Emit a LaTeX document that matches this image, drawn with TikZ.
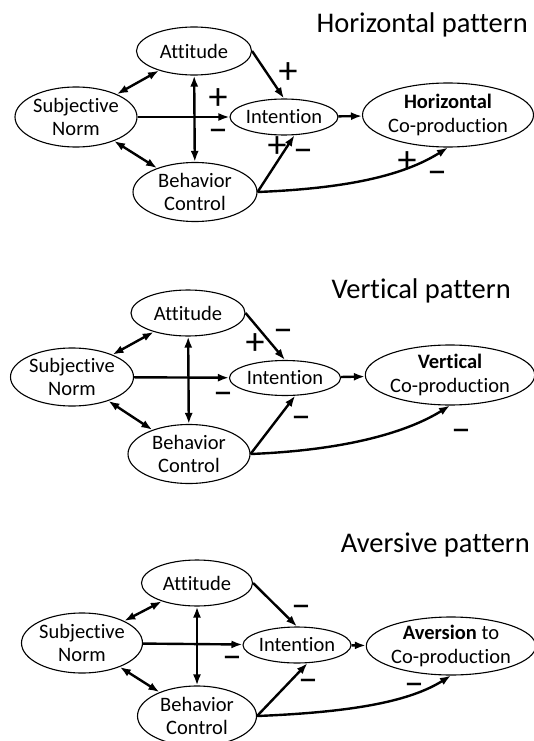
\documentclass[tikz,border=0pt]{standalone}
\usepackage{fontspec}
\setmainfont{Carlito}[Ligatures=CommonOff]
\usetikzlibrary{shapes.geometric,arrows.meta}
\newcommand{\nodesize}{\fontsize{20.5}{23.5}\selectfont}
\newcommand{\titlesize}{\fontsize{28.5}{32}\selectfont}
\newcommand{\signsize}{\fontsize{38}{38}\selectfont}
\tikzset{
  construct/.style={
    draw,
    ellipse,
    line width=1.1pt,
    inner xsep=0pt,
    inner ysep=-6pt,
    align=center,
    font=\nodesize,
  },
  effect/.style={line width=2.4pt, -{Latex[length=11pt,width=8pt]}},
  assoc/.style={line width=2.4pt, {Latex[length=11pt,width=8pt]}-{Latex[length=11pt,width=8pt]}},
  signplus/.style={inner sep=0pt, font=\signsize},
  signminus/.style={inner sep=0pt, yshift=-5pt, font=\signsize},
  heading/.style={inner sep=0pt, anchor=base east, font=\titlesize},
}
\begin{document}
\begin{tikzpicture}[x=1pt, y=-1pt]
  \useasboundingbox (0,0) rectangle (534,741);

  % horizontal pattern
  \node[heading] (title1) at (528,33) {Horizontal pattern};
  \node[construct, minimum width=115pt, minimum height=48pt] (att1) at (194,51) {Attitude};
  \node[construct, minimum width=122pt, minimum height=60pt] (sn1) at (76,117) {Subjective\\Norm};
  \node[construct, minimum width=105pt, minimum height=36pt] (int1) at (284,117) {Intention};
  \node[construct, minimum width=171pt, minimum height=64pt] (cop1) at (448,115) {\textbf{Horizontal}\\Co-production};
  \node[construct, minimum width=124pt, minimum height=59pt] (bc1) at (195,192) {Behavior\\Control};
  \draw[assoc] (sn1) -- (att1);
  \draw[assoc] (sn1) -- (bc1);
  \draw[assoc] (att1) -- (bc1);
  \draw[effect] (sn1) -- (int1);
  \draw[effect] (att1.east) -- (int1.north);
  \draw[effect] (bc1.east) -- (int1.-60);
  \draw[effect] (int1) -- (cop1);
  \draw[effect] (bc1.east) .. controls +(100,-4) and +(-40,25) .. (cop1.south);
  \node[signplus] (s1a) at (288,73) {+};
  \node[signplus] (s1b) at (218,99) {+};
  \node[signminus] (s1c) at (218,131) {−};
  \node[signplus] (s1d) at (277,147) {+};
  \node[signminus] (s1e) at (303,151) {−};
  \node[signplus] (s1f) at (407,162) {+};
  \node[signminus] (s1g) at (437,173) {−};

  % vertical pattern
  \node[heading] (title2) at (511,298) {Vertical pattern};
  \node[construct, minimum width=114pt, minimum height=46pt] (att2) at (188,313) {Attitude};
  \node[construct, minimum width=123pt, minimum height=58pt] (sn2) at (72,377) {Subjective\\Norm};
  \node[construct, minimum width=111pt, minimum height=35pt] (int2) at (285,378) {Intention};
  \node[construct, minimum width=168pt, minimum height=60pt] (cop2) at (450,375) {\textbf{Vertical}\\Co-production};
  \node[construct, minimum width=122pt, minimum height=59pt] (bc2) at (189,454) {Behavior\\Control};
  \draw[assoc] (sn2) -- (att2);
  \draw[assoc] (sn2) -- (bc2);
  \draw[assoc] (att2) -- (bc2);
  \draw[effect] (sn2) -- (int2);
  \draw[effect] (att2.east) -- (int2.north);
  \draw[effect] (bc2.east) -- (int2.-60);
  \draw[effect] (int2) -- (cop2);
  \draw[effect] (bc2.east) .. controls +(100,-4) and +(-40,25) .. (cop2.south);
  \node[signplus] (s2a) at (255,344) {+};
  \node[signminus] (s2b) at (283,331) {−};
  \node[signminus] (s2c) at (223,394) {−};
  \node[signminus] (s2d) at (301,418) {−};
  \node[signminus] (s2e) at (461,431) {−};

  % aversive pattern
  \node[heading] (title3) at (530,552) {Aversive pattern};
  \node[construct, minimum width=111pt, minimum height=46pt] (att3) at (197,583) {Attitude};
  \node[construct, minimum width=119pt, minimum height=60pt] (sn3) at (82,643) {Subjective\\Norm};
  \node[construct, minimum width=108pt, minimum height=36pt] (int3) at (297,645) {Intention};
  \node[construct, minimum width=166pt, minimum height=58pt] (cop3) at (451,646) {\textbf{Aversion} to\\Co-production};
  \node[construct, minimum width=119pt, minimum height=60pt] (bc3) at (197,716) {Behavior\\Control};
  \draw[assoc] (sn3) -- (att3);
  \draw[assoc] (sn3) -- (bc3);
  \draw[assoc] (att3) -- (bc3);
  \draw[effect] (sn3) -- (int3);
  \draw[effect] (att3.east) -- (int3.north);
  \draw[effect] (bc3.east) -- (int3.-60);
  \draw[effect] (int3) -- (cop3);
  \draw[effect] (bc3.east) .. controls +(100,-4) and +(-40,25) .. (cop3.south);
  \node[signminus] (s3a) at (301,607) {−};
  \node[signminus] (s3b) at (232,658) {−};
  \node[signminus] (s3c) at (308,681) {−};
  \node[signminus] (s3d) at (414,685) {−};
\end{tikzpicture}
\end{document}
